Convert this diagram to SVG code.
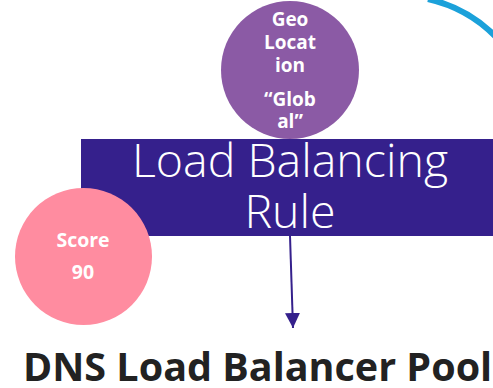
<svg xmlns="http://www.w3.org/2000/svg" width="493" height="388" viewBox="0 0 493 388">
<defs>
<style>
.w{fill:#ffffff;font-family:"Open Sans","Liberation Sans",sans-serif;text-anchor:middle}
.b{font-weight:700}
.lt{font-weight:300}
</style>
<marker id="ah" markerWidth="15" markerHeight="15" refX="15" refY="7.5" orient="auto" markerUnits="userSpaceOnUse">
<path d="M0,0 L15,7.5 L0,15 Z" fill="#35208c"/>
</marker>
</defs>
<rect width="493" height="388" fill="#ffffff"/>
<path d="M428,-1 Q468,8 496,37" fill="none" stroke="#1ba1da" stroke-width="6"/>
<g id="rule">
<rect x="81" y="139" width="412" height="97" fill="#35208c"/>
<text class="w lt" x="290" y="177" font-size="46.5">Load Balancing</text>
<text class="w lt" x="290" y="228" font-size="46.5">Rule</text>
</g>
<g id="geo">
<circle cx="290" cy="70" r="69" fill="#8b5aa5"/>
<text class="w b" x="290" y="26" font-size="19">Geo</text>
<text class="w b" x="290" y="49" font-size="19">Locat</text>
<text class="w b" x="290" y="72" font-size="19">ion</text>
<text class="w b" x="290" y="106" font-size="19">“Glob</text>
<text class="w b" x="290" y="128" font-size="19">al”</text>
</g>
<g id="score">
<circle cx="83.5" cy="256.5" r="68.5" fill="#ff8ca0"/>
<text class="w b" x="83" y="247" font-size="19.5">Score</text>
<text class="w b" x="83" y="279" font-size="19.5">90</text>
</g>
<g id="connectors">
<line x1="290" y1="236" x2="293" y2="328" stroke="#35208c" stroke-width="2" marker-end="url(#ah)"/>
</g>
<g id="pool">
<text x="23" y="381" font-size="39.5" font-weight="700" fill="#222222" font-family="'Open Sans','Liberation Sans',sans-serif">DNS Load Balancer Pool</text>
</g>
</svg>
